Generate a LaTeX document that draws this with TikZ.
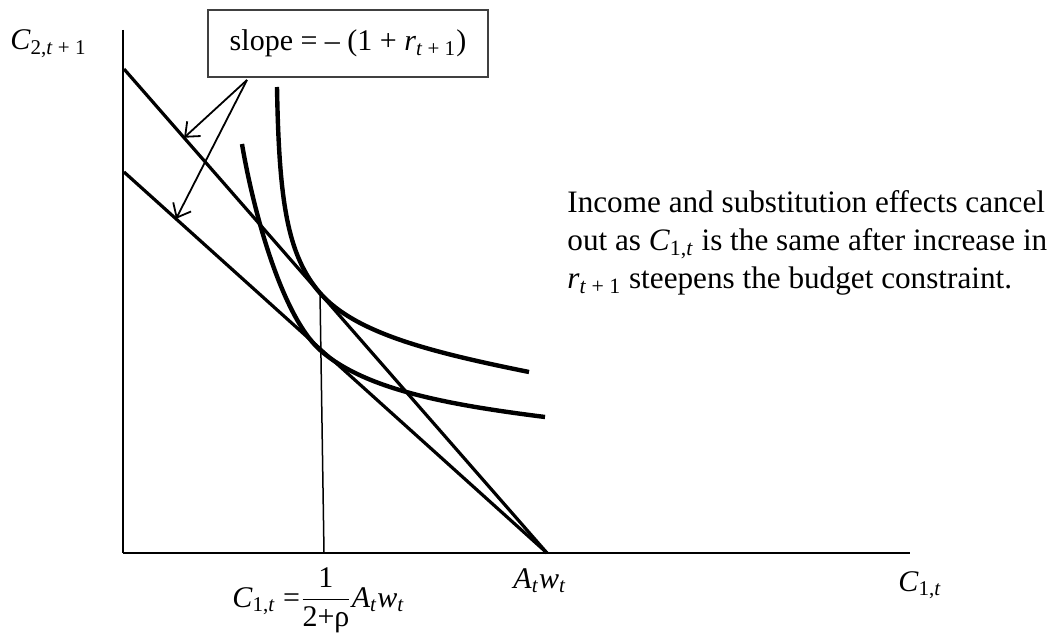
\documentclass[tikz,border=0pt]{standalone}
\usepackage{fontspec}
\setmainfont{Liberation Serif}
\usetikzlibrary{arrows.meta,positioning}
\newcommand{\var}[2]{\textit{#1}\textsubscript{#2}}

\begin{document}
\begin{tikzpicture}[x=0.5pt,y=-0.5pt,
  axisline/.style={line width=0.8pt},
  budget/.style={line width=1.6pt},
  indiff/.style={line width=2.2pt},
  pointer/.style={-{Straight Barb[length=6pt,width=10pt]},line width=0.9pt},
  lbl/.style={inner sep=0pt,font=\fontsize{15}{18}\selectfont},
  note/.style={lbl,align=left,font=\fontsize{15.6}{19}\selectfont}]
\useasboundingbox (0,0) rectangle (1050,636);
\coordinate (orig) at (123,553);
\coordinate (ytop) at (123,30);
\coordinate (xend) at (910,553);
\coordinate (hi0) at (124,69);
\coordinate (lo0) at (124,172);
\coordinate (aw) at (547,553);
\coordinate (tanhi) at (320,293);
\coordinate (tanlo) at (320,350);
\coordinate (foot) at (324,553);
\draw[line width=0.7pt] (ytop) -- (orig);
\draw[axisline] (orig) -- (xend);
\draw[budget] (hi0) -- coordinate[pos=0.142] (tiphi) (aw);
\draw[budget] (lo0) -- coordinate[pos=0.123] (tiplo) (aw);
\draw[indiff] (277,87) .. controls (279,200) and (287,255) .. (tanhi)
  .. controls (355,333) and (430,352) .. (529,372);
\draw[indiff] (242,144) .. controls (252,204) and (280,314) .. (tanlo)
  .. controls (365,390) and (450,405) .. (545,417);
\draw[line width=0.75pt] (tanhi) -- (foot);
\node[lbl,draw=black!75,line width=0.6pt,minimum width=140pt,minimum height=33.5pt] (slope) at (348,43.5) {slope = – (1 + \var{r}{\textit{t} + 1})};
\coordinate (fan) at (247,80);
\foreach \tip in {tiphi,tiplo}
  \draw[pointer] (fan) -- (\tip);
\node[lbl,anchor=base west] (c2lab) at (10,50) {\var{C}{2,\textit{t} + 1}};
\node[lbl,anchor=base west] (awlab) at (513,588) {\var{A}{\textit{t}}\var{w}{\textit{t}}};
\node[lbl,anchor=base west] (c1lab) at (898,591) {\var{C}{1,\textit{t}}};
\node[lbl,anchor=base west] (c1eq) at (232,607) {\var{C}{1,\textit{t}} =$\displaystyle\frac{\mbox{1}}{\mbox{2+ρ}}$\var{A}{\textit{t}}\var{w}{\textit{t}}};
\node[note,anchor=base west] (effect) at (567,289) {Income and substitution effects cancel\\out as \var{C}{1,\textit{t}} is the same after increase in\\\var{r}{\textit{t} + 1} steepens the budget constraint.};
\end{tikzpicture}
\end{document}
